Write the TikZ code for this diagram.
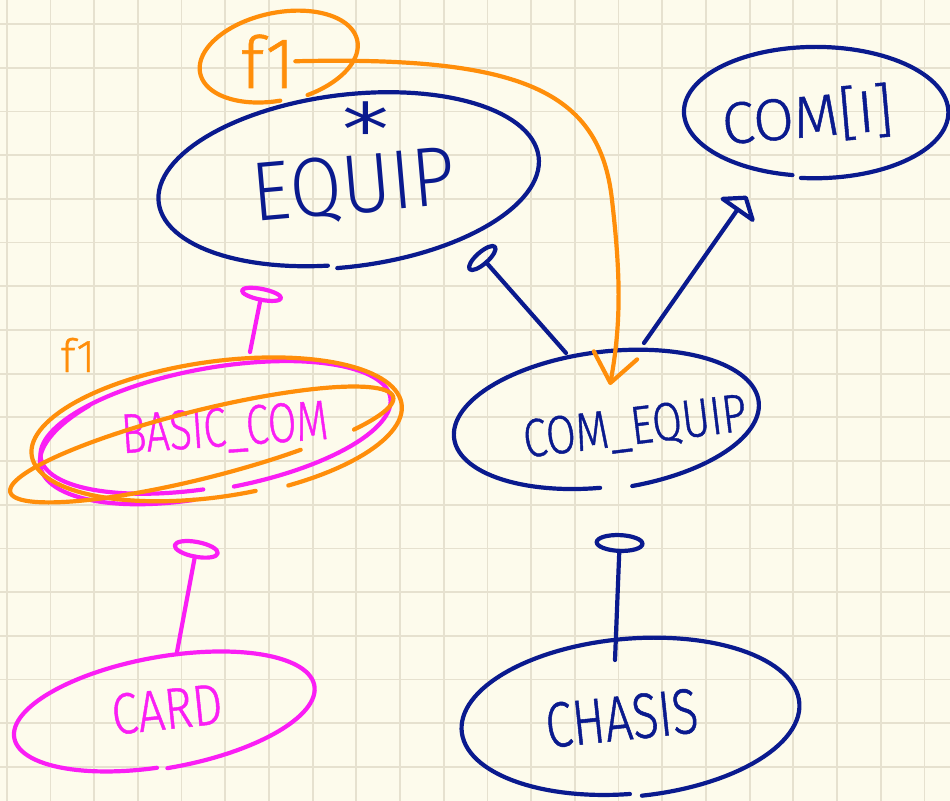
\documentclass[tikz,border=0pt]{standalone}
\usepackage{fontspec}
% one hand-lettering face, set at several widths
\newfontfamily\handE{Fira Sans Light}[FakeStretch=0.9]
\newfontfamily\handF{Fira Sans Light}[FakeBold=0.8]
\newfontfamily\handA{Fira Sans Light}[FakeBold=0.8, FakeStretch=0.8]
\newfontfamily\handB{Fira Sans Light}[FakeBold=0.8, FakeStretch=0.74]
\newfontfamily\handC{Fira Sans Light}[FakeBold=0.8, FakeStretch=0.82]
\newfontfamily\handD{Fira Sans Light}[FakeBold=0.8, FakeStretch=0.76]
\newfontfamily\starfont{DejaVu Sans}[FakeStretch=1.3]
\usetikzlibrary{arrows.meta}

\definecolor{paper}{HTML}{FDFBEC}
\definecolor{gridc}{HTML}{E6E1CF}
\definecolor{ink}{HTML}{0A1A8E}
\definecolor{pink}{HTML}{FA1EF5}
\definecolor{amber}{HTML}{FF8E0A}

\newcommand{\sz}[1]{\fontsize{#1bp}{#1bp}\selectfont}

% a hand-drawn loop: a slightly growing ellipse whose two ends do not meet
% #1 style, #2 #3 centre, #4 #5 radii, #6 tilt, #7 start angle, #8 sweep
\newcommand{\handloop}[8]{%
  \draw[#1, shift={(#2,#3)}, rotate=#6]
    plot[samples=120, domain=#7:#7+#8, variable=\t]
    ({#4*(0.985+0.035*(\t-#7)/#8)*cos(\t)}, {#5*(0.985+0.035*(\t-#7)/#8)*sin(\t)});}

\tikzset{
  pen/.style={line width=4.2bp, line cap=round, line join=round},
  blue pen/.style={pen, draw=ink},
  pink pen/.style={pen, draw=pink},
  amber pen/.style={pen, draw=amber},
  word/.style={inner sep=0pt, anchor=base},
}

\begin{document}
\begin{tikzpicture}[x=1bp, y=-1bp]
  % paper and squared grid
  \fill[paper] (0,0) rectangle (950,801);
  \useasboundingbox (0,0) rectangle (950,801);
  \foreach \k in {0,...,21}
    \draw[gridc, line width=1.8bp] ({6.7+43.7*\k},0) -- ({6.7+43.7*\k},801);
  \foreach \k in {0,...,17}
    \draw[gridc, line width=1.8bp] (0,{24+43.7*\k}) -- (950,{24+43.7*\k});

  % entity names, written with a slight upward slant
  \node[word, text=ink, font=\handE\sz{84}, rotate=5] (equip) at (356,213) {EQUIP};
  \node[word, text=ink, font=\starfont\sz{72}, anchor=center] (star) at (366,118) {⁎};
  \node[word, text=ink, font=\handA\sz{54}, rotate=7] (comeq) at (637,444) {COM\_EQUIP};
  \node[word, text=ink, font=\handF\sz{59}, rotate=5] (comarr) at (809,137) {COM[I]};
  \node[word, text=pink, font=\handB\sz{56}, rotate=4] (basic) at (226,446) {BASIC\_COM};
  \node[word, text=pink, font=\handC\sz{58}, rotate=6] (card) at (169,729) {CARD};
  \node[word, text=ink, font=\handD\sz{64}, rotate=6] (chasis) at (624,740) {CHASIS};
  \node[word, text=amber, font=\handF\sz{72}] (ftop) at (268,88) {f1};
  \node[word, text=amber, font=\handF\sz{46}] (fbot) at (78,372) {f1};

  % outlines round the names
  \handloop{blue pen}{347}{180}{191}{85}{7}{99}{357}
  \handloop{blue pen}{605}{420}{153}{68}{7}{95}{348}
  \handloop{blue pen}{815}{112}{132}{65}{0}{100}{356}
  \handloop{blue pen}{629}{717}{169}{78}{5}{92}{356}
  \handloop{pink pen}{163}{712}{152}{55}{10}{96}{356}
  \handloop{pink pen}{214}{428}{177}{60}{10}{97}{350}
  \handloop{pink pen}{210}{432}{172}{65}{12}{100}{130}
  \handloop{amber pen}{215}{430}{186}{68}{8}{80}{350}
  \handloop{amber pen}{200}{445}{196}{34}{14}{60}{340}
  \handloop{amber pen}{278}{57}{80}{44}{12}{95}{340}

  % connector ends
  \coordinate (c1a) at (566,353);  \coordinate (c1b) at (477,252);
  \coordinate (c2a) at (644,343);  \coordinate (c2b) at (747,196);
  \coordinate (c3a) at (250,352);  \coordinate (c3b) at (263,287);
  \coordinate (c4a) at (177,652);  \coordinate (c4b) at (198,540);
  \coordinate (c5a) at (615,660);  \coordinate (c5b) at (620,533);
  \coordinate (tip) at (610,385);

  % connectors
  \draw[blue pen, -{Ellipse[open, round, length=16bp, width=38bp]}] (c1a) -- (c1b);
  \draw[blue pen, -{Triangle[open, round, length=19bp, width=48bp]}] (c2a) -- (c2b);
  \draw[pink pen, -{Ellipse[open, round, length=15bp, width=44bp]}] (c3a) -- (c3b);
  \draw[pink pen, -{Ellipse[open, round, length=19bp, width=48bp]}] (c4a) -- (c4b);
  \draw[blue pen, -{Ellipse[open, round, length=20bp, width=50bp]}] (c5a) -- (c5b);
  \draw[amber pen, -{Straight Barb[round, length=28bp, width=44bp]}]
    (ftop.east) .. controls (520,56) and (600,90) .. (612,200)
    .. controls (620,270) and (622,320) .. (tip);
\end{tikzpicture}
\end{document}
